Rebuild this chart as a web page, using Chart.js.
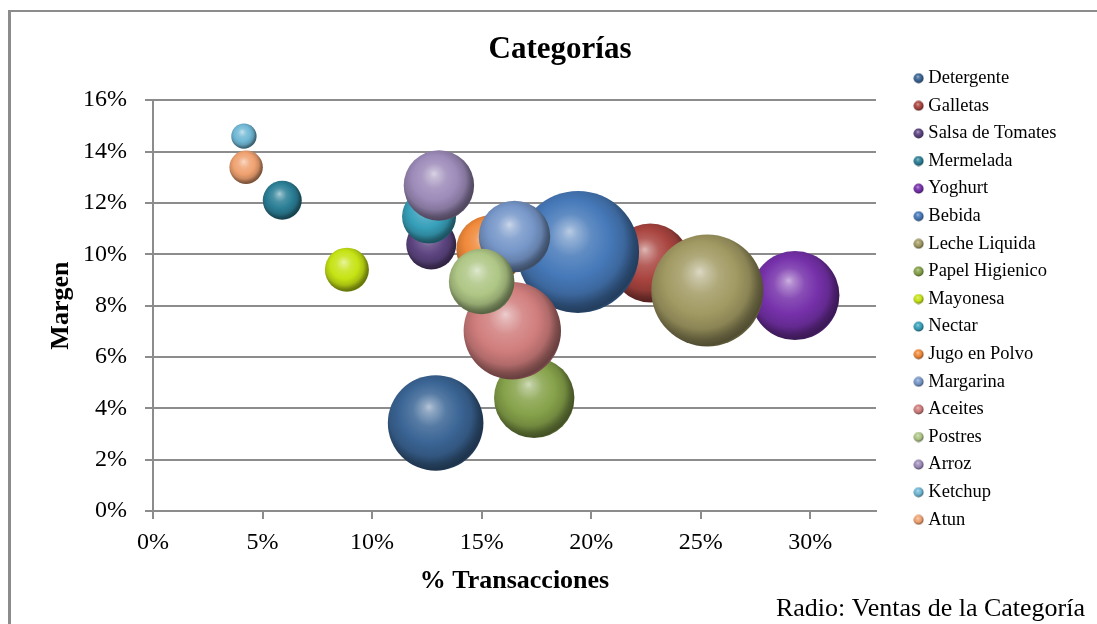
<!DOCTYPE html>
<html>
<head>
<meta charset="utf-8">
<title>Categorías</title>
<script src="https://cdn.jsdelivr.net/npm/chart.js@4.4.1/dist/chart.umd.min.js"></script>
<style>
  html, body { margin: 0; padding: 0; background: #fff; overflow: hidden; }
  #frame { position: absolute; left: 8px; top: 10px; width: 1200px; height: 700px;
           border-left: 3px solid #8c8c8c; border-top: 2px solid #8c8c8c; }
  #categorias { position: absolute; left: 0; top: 0; }
</style>
</head>
<body>
<div id="frame"></div>
<canvas id="categorias" width="1097" height="624"></canvas>
<script>
// categorias de producto, en el orden de la leyenda
const categorias = ['Detergente', 'Galletas', 'Salsa de Tomates', 'Mermelada', 'Yoghurt',
  'Bebida', 'Leche Liquida', 'Papel Higienico', 'Mayonesa', 'Nectar', 'Jugo en Polvo',
  'Margarina', 'Aceites', 'Postres', 'Arroz', 'Ketchup', 'Atun'];
// % de transacciones (eje x)
const transacciones = [12.9, 22.7, 12.7, 5.9, 29.3, 19.4, 25.3, 17.4, 8.85, 12.6, 15.4,
  16.5, 16.4, 15.0, 13.05, 4.15, 4.25];
// margen % (eje y)
const margen = [3.43, 9.66, 10.38, 12.1, 8.39, 10.09, 8.59, 4.41, 9.4, 11.47, 10.19,
  10.69, 7.02, 8.94, 12.68, 14.6, 13.39];
// ventas relativas de cada categoria (tamano de la burbuja)
const ventas = [61.4, 41.9, 16.8, 10.2, 53.2, 100, 84.3, 43.4, 13.0, 19.6, 31.1,
  34.3, 63.7, 28.9, 33.3, 4.3, 7.5];
const colores = ['#3b6595', '#a9443f', '#5d4581', '#2b7f96', '#7631aa', '#4679b9',
  '#a29a63', '#86a24a', '#c6e314', '#37a0ba', '#f0893a', '#7797c9', '#d07e7d',
  '#aec685', '#9d8bb9', '#70b8d5', '#f0a271'];
const xTicks = [0, 5, 10, 15, 20, 25, 30];
const yTicks = [0, 2, 4, 6, 8, 10, 12, 14, 16];

const SERIF = "'Liberation Serif', 'Times New Roman', serif";
const GRID = '#8c8c8c';
const R_MAX = 61;
const LEGEND_WIDTH = 209;
const LEGEND_LEFT = 909;
const LEGEND_SHIFT = -19;

const radio = v => R_MAX * Math.sqrt(v / Math.max(...ventas));

function shade(hex, amt) {
  const n = parseInt(hex.slice(1), 16);
  const t = amt < 0 ? 0 : 255, p = Math.abs(amt);
  const mix = c => Math.round(c + (t - c) * p);
  return `rgb(${mix(n >> 16)},${mix((n >> 8) & 255)},${mix(n & 255)})`;
}

// shaded ball: soft highlight up-left, darker towards the lower right rim
function sphere(ctx, cx, cy, r, color) {
  const g = ctx.createRadialGradient(cx - r * 0.14, cy - r * 0.34, 0,
                                     cx - r * 0.1, cy - r * 0.12, r * 1.16);
  g.addColorStop(0, shade(color, 0.62));
  g.addColorStop(0.1, shade(color, 0.42));
  g.addColorStop(0.3, shade(color, 0.14));
  g.addColorStop(0.55, color);
  g.addColorStop(0.75, shade(color, -0.15));
  g.addColorStop(0.88, shade(color, -0.4));
  g.addColorStop(0.96, shade(color, -0.5));
  g.addColorStop(1, shade(color, -0.35));
  return g;
}

function sphereFill(c, color) {
  const raw = c.raw;
  const sx = c.chart.scales.x, sy = c.chart.scales.y;
  if (!raw || !sx || !sy) return color;
  const px = sx.getPixelForValue(raw.x), py = sy.getPixelForValue(raw.y);
  if (!Number.isFinite(px) || !Number.isFinite(py)) return color;
  return sphere(c.chart.ctx, px, py, raw.r, color);
}

// small balls for the legend
const markers = colores.map(color => {
  const cv = document.createElement('canvas');
  cv.width = cv.height = 11;
  const g = cv.getContext('2d');
  g.fillStyle = sphere(g, 5.5, 5.5, 5, color);
  g.beginPath();
  g.arc(5.5, 5.5, 5, 0, Math.PI * 2);
  g.fill();
  return cv;
});

// legend column of fixed width, items placed at the marker column
const legendColumn = {
  id: 'legendColumn',
  beforeLayout(chart) {
    const legend = chart.legend;
    if (legend && !legend.fixedWidth) {
      const fit = legend.fit;
      legend.fit = function () { fit.call(this); this.width = LEGEND_WIDTH; };
      legend.fixedWidth = true;
    }
  },
  afterLayout(chart) {
    const legend = chart.legend;
    legend.left = LEGEND_LEFT;
    legend.right = LEGEND_LEFT + LEGEND_WIDTH;
    legend.top += LEGEND_SHIFT;
    legend.bottom += LEGEND_SHIFT;
  }
};

new Chart(document.getElementById('categorias'), {
  type: 'bubble',
  data: {
    datasets: categorias.map((name, i) => ({
      label: name,
      data: [{ x: transacciones[i], y: margen[i], r: radio(ventas[i]) }],
      backgroundColor: c => sphereFill(c, colores[i]),
      borderWidth: 0,
      hoverBorderWidth: 0,
      order: categorias.length - i
    }))
  },
  options: {
    responsive: false,
    animation: false,
    events: [],
    layout: { padding: { left: 35, right: 12, top: 12, bottom: 0 } },
    plugins: {
      title: {
        display: true,
        text: 'Categorías',
        color: '#000',
        font: { family: SERIF, size: 31, weight: 'bold', lineHeight: 1.2 },
        padding: { top: 19, bottom: 32 }
      },
      subtitle: {
        display: true,
        position: 'bottom',
        align: 'end',
        text: 'Radio: Ventas de la Categoría',
        color: '#000',
        font: { family: SERIF, size: 26, weight: 'normal', lineHeight: 1 },
        padding: { top: 0, bottom: 2 }
      },
      legend: {
        position: 'right',
        align: 'center',
        labels: {
          usePointStyle: true,
          boxWidth: 1,
          padding: 9.1,
          color: '#000',
          font: { family: SERIF, size: 18.5 },
          generateLabels: chart => chart.data.datasets.map((ds, i) => ({
            text: ds.label,
            pointStyle: markers[i],
            datasetIndex: i,
            hidden: !chart.isDatasetVisible(i),
            lineWidth: 0,
            fillStyle: colores[i],
            strokeStyle: colores[i],
            fontColor: '#000'
          }))
        }
      },
      tooltip: { enabled: false }
    },
    scales: {
      x: {
        type: 'linear',
        min: 0,
        max: 33,
        afterBuildTicks: s => { s.ticks = xTicks.map(v => ({ value: v })); },
        afterFit: s => { s.height = 85; },
        ticks: {
          callback: v => v + '%',
          color: '#000',
          font: { family: SERIF, size: 24 },
          padding: 9,
          maxRotation: 0,
          autoSkip: false
        },
        grid: { drawOnChartArea: false, drawTicks: true, tickLength: 8, color: GRID, lineWidth: 2 },
        border: { display: true, color: GRID, width: 2 },
        title: {
          display: true,
          text: '% Transacciones',
          color: '#000',
          font: { family: SERIF, size: 26, weight: 'bold', lineHeight: 1 },
          padding: { top: 0, bottom: 2 }
        }
      },
      y: {
        type: 'linear',
        min: 0,
        max: 16,
        afterBuildTicks: s => { s.ticks = yTicks.map(v => ({ value: v })); },
        afterFit: s => { s.width = 118; },
        ticks: {
          callback: v => v + '%',
          color: '#000',
          font: { family: SERIF, size: 24 },
          padding: 18,
          autoSkip: false
        },
        grid: { drawTicks: true, tickLength: 8, color: GRID, lineWidth: 2 },
        border: { display: true, color: GRID, width: 2 },
        title: {
          display: true,
          text: 'Margen',
          color: '#000',
          font: { family: SERIF, size: 26, weight: 'bold', lineHeight: 1 },
          padding: { top: 13, bottom: 0 }
        }
      }
    }
  },
  plugins: [legendColumn]
});
</script>
</body>
</html>
